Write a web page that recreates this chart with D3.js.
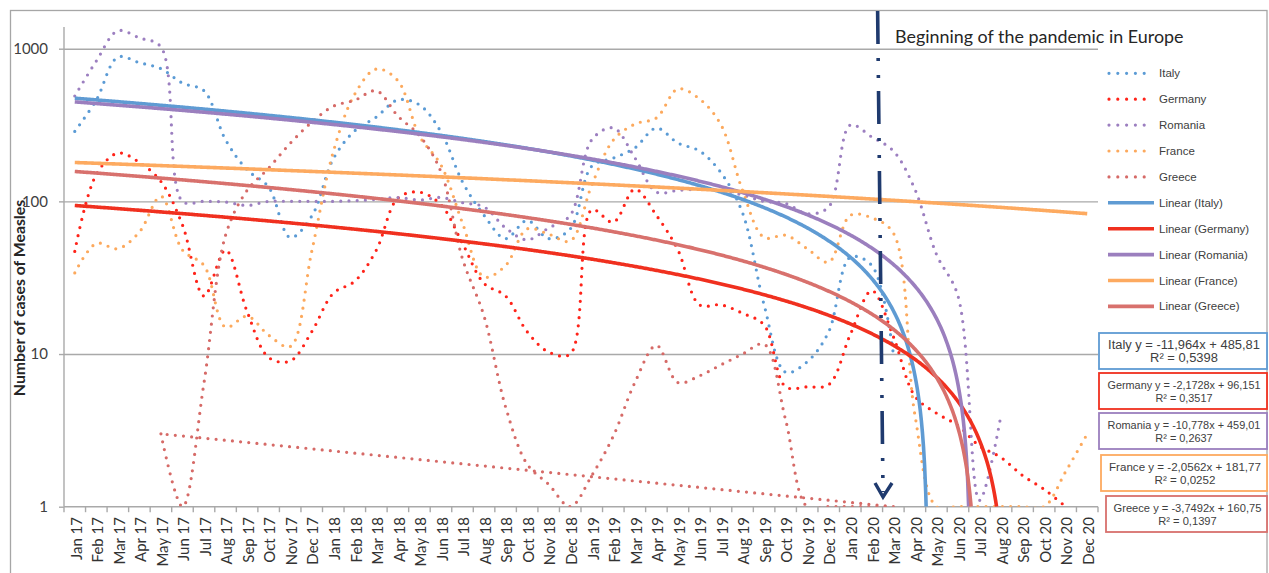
<!DOCTYPE html>
<html>
<head>
<meta charset="utf-8">
<script src="https://cdn.jsdelivr.net/npm/d3@7"></script>
<style>
    body { margin: 0; background: #fff; }
    svg { display: block; font-family: "Liberation Sans", Arial, sans-serif; }
</style>
</head>
<body>
<div id="chart"></div>
<script>

// x categories (monthly)
const months = [
    "Jan 17","Feb 17","Mar 17","Apr 17","May 17","Jun 17","Jul 17","Aug 17","Sep 17","Oct 17","Nov 17","Dec 17",
    "Jan 18","Feb 18","Mar 18","Apr 18","May 18","Jun 18","Jul 18","Aug 18","Sep 18","Oct 18","Nov 18","Dec 18",
    "Jan 19","Feb 19","Mar 19","Apr 19","May 19","Jun 19","Jul 19","Aug 19","Sep 19","Oct 19","Nov 19","Dec 19",
    "Jan 20","Feb 20","Mar 20","Apr 20","May 20","Jun 20","Jul 20","Aug 20","Sep 20","Oct 20","Nov 20","Dec 20"
];

// monthly measles cases (null = not plotted)
const italy = [
    287, 461, 880, 810, 740, 595, 530, 253, 161, 124, 58, 80,
    190, 290, 357, 462, 429, 285, 134, 81, 57, 75, 57, 66,
    170, 192, 224, 302, 241, 214, 154, 84, 21, 7.6, 8.9, 14,
    43, 38, 10, null, null, null, null, null, null, null, null, null
];
const germany = [
    47, 150, 207, 180, 135, 70, 24, 48, 19, 9.5, 9, 14,
    25, 30, 48, 105, 115, 95, 53, 29, 24, 14, 10.3, 10,
    88, 73, 120, 81, 48, 21, 21, 18.5, 15.5, 6.1, 6.1, 6.3,
    13.4, 26, 13, 5.3, 4.1, 3.4, 2.5, 2.1, 1.6, 1.3, 1, null
];
const romania = [
    490, 830, 1310, 1177, 1027, 100, 100, 99, 94, 100, 100, 100,
    100, 101, 103, 106, 102, 106, 98, 92, 67, 56, 67, 81,
    253, 303, 193, 115, 118, 120, 118, 110, 100, 97, 83, 92,
    316, 264, 214, 120, 45, 24, 1.1, 4, null, null, null, null
];
const france = [
    34, 53, 49, 63, 108, 48, 38, 15, 17.7, 13.3, 11.2, 47,
    211, 505, 736, 617, 268, 173, 72, 32, 38, 66, 61, 55,
    128, 252, 321, 352, 545, 469, 317, 118, 58, 60, 49, 40,
    81, 78, 62, 4, 1, 1, 1, 1, 1, 1, 1.7, 3
];
const greece = [
    null, null, null, null, 3, 1, 6.5, 60, 118, 165, 240, 330,
    420, 460, 530, 362, 270, 156, 42, 17.7, 4.5, 1.9, 1.4, 1,
    1.6, 2.9, 6.5, 11.4, 6.5, 7.2, 8.5, 10, 11.6, 3.7, 1, 1,
    1, 1, 1, null, null, null, null, null, null, null, null, null
];

// linear trend lines (as printed on the chart)
const countries  = ["Italy", "Germany", "Romania", "France", "Greece"];
const slopes     = [-11.964, -2.1728, -10.778, -2.0562, -3.7492];
const intercepts = [485.81, 96.151, 459.01, 181.77, 160.75];
const rSquared   = [0.5398, 0.3517, 0.2637, 0.0252, 0.1397];

const yTicks = [1, 10, 100, 1000];

const dotColors   = ["#5b9bd5", "#ff2319", "#9c7fc0", "#fca95d", "#d66a67"];
const trendColors = ["#5f9bd3", "#f0301f", "#9b7fbe", "#fdaa60", "#d8716d"];

const series = [italy, germany, romania, france, greece];

// layout
const W = 1269, H = 573;
const plotLeft = 64, plotRight = 1098, plotBottom = 506.7, plotTop = 27;

let svg = d3.select("#chart").append("svg")
    .attr("width", W)
    .attr("height", H);

svg.append("rect").attr("width", W).attr("height", H).attr("fill", "#fff");

// outer chart border
svg.append("rect")
    .attr("x", 10.5).attr("y", 10.5)
    .attr("width", 1256.5).attr("height", 640)
    .attr("fill", "none")
    .attr("stroke", "#a6a6a6")
    .attr("stroke-width", 1.3);

// scales
let x = d3.scaleBand().domain(months).range([plotLeft, plotRight]).padding(0);
let bw = x.bandwidth();
let xc = m => x(m) + bw / 2;
// month number (1..48) -> pixel, used by the trend lines
let xNum = d3.scaleLinear().domain([1, 48]).range([xc(months[0]), xc(months[47])]);
let y = d3.scaleLog().domain([1, 1000]).range([plotBottom, 48.7]);

// gridlines
svg.append("g")
    .attr("transform", `translate(${plotLeft},0)`)
    .call(d3.axisLeft(y).tickValues([10, 100, 1000]).tickSize(-(plotRight - plotLeft)).tickFormat(""))
    .call(g => g.select(".domain").remove())
    .selectAll("line")
    .attr("stroke", "#a9a9a9")
    .attr("stroke-width", 1.4);

// y axis
let yAxis = svg.append("g")
    .attr("transform", `translate(${plotLeft},0)`)
    .call(d3.axisLeft(y).tickValues(yTicks).tickSize(5).tickPadding(11).tickFormat(d3.format("d")));
yAxis.select(".domain").remove();
yAxis.selectAll("line").attr("stroke", "#a9a9a9").attr("stroke-width", 1.4);
yAxis.selectAll("text")
    .attr("fill", "#404040")
    .style("font-family", "Lato, sans-serif")
    .style("font-size", "15px");

svg.append("line")
    .attr("x1", plotLeft).attr("x2", plotLeft)
    .attr("y1", plotTop).attr("y2", plotBottom)
    .attr("stroke", "#a9a9a9").attr("stroke-width", 1.4);

// y title
svg.append("text")
    .attr("transform", "translate(19,298) rotate(-90)")
    .attr("text-anchor", "middle")
    .attr("dy", "0.35em")
    .style("font-family", "Lato, sans-serif")
    .style("font-weight", "bold")
    .style("font-size", "15.8px")
    .attr("fill", "#262626")
    .text("Number of cases of Measles");

// x axis line + boundary ticks
let xAxis = svg.append("g");
xAxis.append("line")
    .attr("x1", plotLeft).attr("x2", plotRight)
    .attr("y1", plotBottom).attr("y2", plotBottom)
    .attr("stroke", "#a9a9a9").attr("stroke-width", 1.4);
xAxis.selectAll(".xtick")
    .data(months.concat(["end"]))
    .enter().append("line")
    .attr("class", "xtick")
    .attr("x1", (d, i) => plotLeft + i * bw)
    .attr("x2", (d, i) => plotLeft + i * bw)
    .attr("y1", plotBottom).attr("y2", plotBottom + 5.5)
    .attr("stroke", "#a9a9a9").attr("stroke-width", 1.4);
xAxis.selectAll(".xlabel")
    .data(months)
    .enter().append("text")
    .attr("class", "xlabel")
    .attr("transform", d => `translate(${xc(d) + 1.5},517) rotate(-90)`)
    .attr("text-anchor", "end")
    .attr("dy", "0.35em")
    .style("font-family", "Lato, sans-serif")
    .style("font-size", "15px")
    .attr("fill", "#333")
    .text(d => d);

// clip for the data marks
svg.append("clipPath").attr("id", "plotClip")
    .append("rect")
    .attr("x", plotLeft).attr("y", plotTop)
    .attr("width", plotRight - plotLeft).attr("height", plotBottom - plotTop);

let plotG = svg.append("g").attr("clip-path", "url(#plotClip)");

// smoothed dotted series lines
let line = d3.line()
    .defined(d => d.v != null)
    .x(d => xc(d.m))
    .y(d => y(d.v))
    .curve(d3.curveCatmullRom.alpha(0.5));

series.forEach((vals, k) => {
    let pts = vals.map((v, i) => ({m: months[i], v: v}));
    plotG.append("path")
        .datum(pts)
        .attr("d", line)
        .attr("fill", "none")
        .attr("stroke", dotColors[k])
        .attr("stroke-width", 3.2)
        .attr("stroke-linecap", "round")
        .attr("stroke-dasharray", "0 8.2");
});

// Greece series closes back onto its first point (as in the original)
let gPts = greece.map((v, i) => ({m: months[i], v: v})).filter(d => d.v != null);
plotG.append("line")
    .attr("x1", xc(gPts[gPts.length - 1].m)).attr("y1", y(gPts[gPts.length - 1].v))
    .attr("x2", xc(gPts[0].m)).attr("y2", y(gPts[0].v))
    .attr("stroke", dotColors[4])
    .attr("stroke-width", 3.2)
    .attr("stroke-linecap", "round")
    .attr("stroke-dasharray", "0 8.2");

// linear trend lines (curved on the log axis)
let trendLine = d3.line().x(d => xNum(d[0])).y(d => y(d[1]));
slopes.forEach((a, k) => {
    let b = intercepts[k];
    let xEnd = Math.min(48, (b - 1) / -a);
    let pts = d3.range(1, xEnd, 0.05).map(t => [t, a * t + b]);
    pts.push([xEnd, a * xEnd + b]);
    plotG.append("path")
        .datum(pts)
        .attr("d", trendLine)
        .attr("fill", "none")
        .attr("stroke", trendColors[k])
        .attr("stroke-width", 3.6);
});

// pandemic marker
let markG = svg.append("g");
let mx1 = xNum(38.27), mx2 = xNum(38.52);
markG.append("line")
    .attr("x1", mx1).attr("y1", 11)
    .attr("x2", mx2).attr("y2", 492)
    .attr("stroke", "#1f3a6e")
    .attr("stroke-width", 3.6)
    .attr("stroke-dasharray", "33 14 3 14 3 13");
markG.append("path")
    .attr("d", `M${mx2 - 8},483 L${mx2},497 L${mx2 + 9},483`)
    .attr("fill", "none")
    .attr("stroke", "#1f3a6e")
    .attr("stroke-width", 3.4);
svg.append("text")
    .attr("x", 895).attr("y", 43)
    .style("font-family", "Lato, sans-serif")
    .style("font-size", "17.9px")
    .attr("fill", "#262626")
    .text("Beginning of the pandemic in Europe");

// legend
let legend = svg.append("g").attr("class", "legend");
let legItems = countries.map((c, k) => ({label: c, color: dotColors[k], dotted: true}))
    .concat(countries.map((c, k) => ({label: "Linear (" + c + ")", color: trendColors[k], dotted: false})));

legItems.forEach((d, i) => {
    let ly = 73.3 + i * 25.9;
    let ln = legend.append("line")
        .attr("x1", d.dotted ? 1109 : 1108).attr("x2", d.dotted ? 1153 : 1154)
        .attr("y1", ly).attr("y2", ly)
        .attr("stroke", d.color);
    if (d.dotted) {
        ln.attr("stroke-width", 3.2).attr("stroke-linecap", "round").attr("stroke-dasharray", "0 8.8");
    } else {
        ln.attr("stroke-width", 3.6);
    }
    legend.append("text")
        .attr("x", 1159).attr("y", ly)
        .attr("dy", "0.35em")
        .style("font-size", "11.5px")
        .attr("fill", "#404040")
        .text(d.label);
});

// trend equation boxes
let comma = v => String(v).replace(".", ",");
let boxes = [
    {x: 1099, y: 333, w: 152},
    {x: 1099, y: 373, w: 153},
    {x: 1099, y: 413, w: 153},
    {x: 1101, y: 455, w: 152},
    {x: 1106, y: 496, w: 148}
];
countries.forEach((c, k) => {
    let bx = boxes[k];
    let g = svg.append("g");
    g.append("rect")
        .attr("x", bx.x).attr("y", bx.y)
        .attr("width", 1267 - bx.x).attr("height", 36)
        .attr("fill", "#fff")
        .attr("stroke", trendColors[k])
        .attr("stroke-width", 1.8);
    let cx = (bx.x + 1267) / 2 + 1;
    let t1 = g.append("text")
        .attr("x", cx).attr("y", bx.y + 15.5)
        .attr("text-anchor", "middle")
        .style("font-size", "12px")
        .attr("fill", "#404040")
        .text(`${c} y = ${comma(slopes[k])}x + ${comma(intercepts[k])}`);
    // size the label so it fills the box like the original
    let fs = Math.max(10.5, Math.min(13.2, 12 * bx.w / t1.node().getComputedTextLength()));
    t1.style("font-size", fs + "px");
    g.append("text")
        .attr("x", cx).attr("y", bx.y + 28.5)
        .attr("text-anchor", "middle")
        .style("font-size", fs + "px")
        .attr("fill", "#404040")
        .text(`R² = ${comma(rSquared[k])}`);
});

</script>
</body>
</html>
